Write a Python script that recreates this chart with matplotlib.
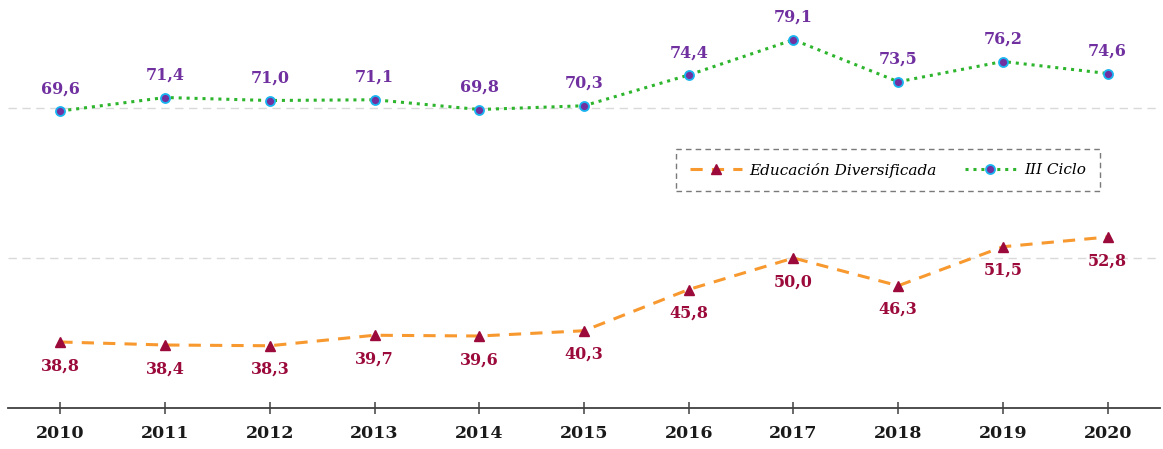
import matplotlib
matplotlib.use("Agg")
import matplotlib.pyplot as plt
from matplotlib.lines import Line2D

years = [2010, 2011, 2012, 2013, 2014, 2015, 2016, 2017, 2018, 2019, 2020]
iii_ciclo = [69.6, 71.4, 71.0, 71.1, 69.8, 70.3, 74.4, 79.1, 73.5, 76.2, 74.6]
edu_div = [38.8, 38.4, 38.3, 39.7, 39.6, 40.3, 45.8, 50.0, 46.3, 51.5, 52.8]
labels_edu = "Educación Diversificada"
labels_iii = "III Ciclo"

def fmt(v):
    return f"{v:.1f}".replace(".", ",")

W, H = 1163, 449
fig = plt.figure(figsize=(W / 100, H / 100), dpi=100)
ax = fig.add_axes([8 / W, (H - 408) / H, (1160 - 8) / W, 408 / H])

ax.set_xlim(2009.5, 2020.5)
ax.set_ylim(30, 84.4)

for g in (50, 70):
    ax.axhline(g, color="#d9d9d9", lw=1, ls=(0, (6, 4)), zorder=0)

green = "#2DB52D"
purple = "#7030A0"
orange = "#F7992F"
darkred = "#9B0A3A"

ax.plot(years, iii_ciclo, ls=(0, (1, 1.6)), color=green, lw=2.2,
        marker="o", ms=6.5, mfc=purple, mec="#19B4F0", mew=1.3, zorder=3)
ax.plot(years, edu_div, ls=(0, (4, 3)), color=orange, lw=2.2,
        marker="^", ms=7.5, mfc=darkred, mec=darkred, zorder=3)

lblfont = dict(family="DejaVu Serif", weight="bold", size=11.5)
for x, v in zip(years, iii_ciclo):
    ax.annotate(fmt(v), (x, v), xytext=(0, 10), textcoords="offset points",
                ha="center", va="bottom", color=purple, **lblfont)
for x, v in zip(years, edu_div):
    ax.annotate(fmt(v), (x, v), xytext=(0, -11), textcoords="offset points",
                ha="center", va="top", color=darkred, **lblfont)

for s in ("top", "right", "left"):
    ax.spines[s].set_visible(False)
ax.spines["bottom"].set_color("#404040")
ax.spines["bottom"].set_linewidth(1.3)
ax.set_yticks([])
ax.set_xticks(years)
ax.set_xticklabels([str(y) for y in years], family="DejaVu Serif",
                   weight="bold", size=12.5, color="#1a1a1a")
ax.tick_params(axis="x", direction="inout", length=9, width=1.1,
               color="#404040", pad=8)

handles = [
    Line2D([], [], ls=(0, (4, 3)), color=orange, lw=2.2, marker="^",
           ms=7.5, mfc=darkred, mec=darkred),
    Line2D([], [], ls=(0, (1, 1.6)), color=green, lw=2.2, marker="o",
           ms=6.5, mfc=purple, mec="#19B4F0", mew=1.3),
]
leg = ax.legend(handles, [labels_edu, labels_iii], loc="center",
                bbox_to_anchor=((888 - 8) / (1160 - 8), (408 - 170) / 408),
                ncol=2, frameon=True, fancybox=False, handlelength=3.4,
                columnspacing=1.8, handletextpad=0.5, borderpad=0.9,
                prop=dict(family="DejaVu Serif", style="italic", size=11))
frame = leg.get_frame()
frame.set_edgecolor("#595959")
frame.set_linestyle((0, (4, 3)))
frame.set_linewidth(1)

fig.savefig("out.png", dpi=100)
